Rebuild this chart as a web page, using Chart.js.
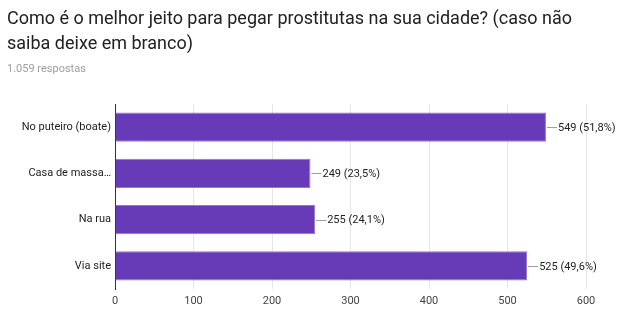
<!DOCTYPE html>
<html>
<head>
<meta charset="utf-8">
<script src="https://cdn.jsdelivr.net/npm/chart.js@4/dist/chart.umd.min.js"></script>
<style>
  html, body { margin: 0; padding: 0; background: #fff; }
  #wrap { position: relative; width: 620px; height: 324px; overflow: hidden; }
  #chart { position: absolute; left: 0; top: 0; }
  .title { position: absolute; left: 7px; top: 5px; width: 600px; font-family: Roboto, sans-serif;
           font-size: 18px; line-height: 25px; color: #212121; }
  .count { position: absolute; left: 7px; top: 62px; font-family: Roboto, sans-serif;
           font-size: 11px; color: #9e9e9e; }
</style>
</head>
<body>
<div id="wrap">
  <canvas id="chart" width="620" height="324"></canvas>
  <div class="title">Como é o melhor jeito para pegar prostitutas na sua cidade? (caso não saiba deixe em branco)</div>
  <div class="count">1.059 respostas</div>
</div>
<script>
// ================= DATA =================
const categories = ["No puteiro (boate)", "Casa de massa…", "Na rua", "Via site"];
const answers = [549, 249, 255, 525];
const percents = ["51,8%", "23,5%", "24,1%", "49,6%"];
const xTicks = [0, 100, 200, 300, 400, 500, 600];

// ================= VALUE LABELS =================
const valueLabels = {
  id: "valueLabels",
  afterDatasetsDraw(chart) {
    const ctx = chart.ctx;
    const meta = chart.getDatasetMeta(0);
    ctx.save();
    ctx.font = "11px Roboto, sans-serif";
    ctx.textBaseline = "middle";
    ctx.textAlign = "left";
    meta.data.forEach((bar, i) => {
      ctx.strokeStyle = "#9e9e9e";
      ctx.lineWidth = 1;
      ctx.beginPath();
      ctx.moveTo(bar.x + 1, Math.round(bar.y) + 0.5);
      ctx.lineTo(bar.x + 11, Math.round(bar.y) + 0.5);
      ctx.stroke();
      ctx.fillStyle = "#222";
      ctx.fillText(answers[i] + " (" + percents[i] + ")", bar.x + 12, bar.y + 1);
    });
    ctx.restore();
  }
};

// ================= CHART =================
new Chart(document.getElementById("chart"), {
  type: "bar",
  data: {
    labels: categories,
    datasets: [{
      data: answers,
      backgroundColor: "#673ab7",
      borderColor: "#9575cd",
      borderWidth: 1,
      categoryPercentage: 1,
      barPercentage: 0.63
    }]
  },
  options: {
    indexAxis: "y",
    responsive: false,
    animation: false,
    layout: { padding: { top: 104, right: 34, bottom: 0, left: 0 } },
    plugins: {
      legend: { display: false },
      tooltip: { enabled: false }
    },
    scales: {
      x: {
        min: 0,
        max: 600,
        afterBuildTicks: (s) => { s.ticks = xTicks.map(v => ({ value: v })); },
        afterFit: (s) => { s.height = 35; },
        grid: { color: "#e6e6e6", drawTicks: false },
        border: { display: false },
        ticks: { color: "#444", padding: 6, font: { family: "Roboto", size: 11 } }
      },
      y: {
        afterFit: (s) => { s.width = 115; },
        grid: { display: false, drawTicks: false },
        border: { display: true, color: "#333", width: 1 },
        ticks: { color: "#222", padding: 4, font: { family: "Roboto", size: 11 } }
      }
    }
  },
  plugins: [valueLabels]
});
</script>
</body>
</html>
